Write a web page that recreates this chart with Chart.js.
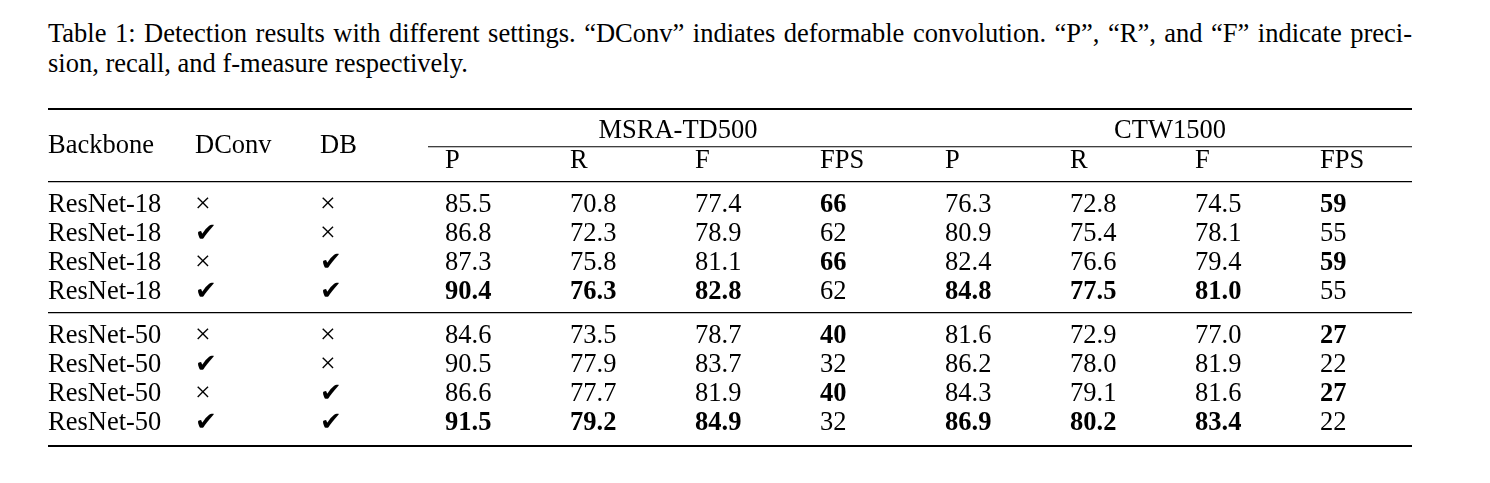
<!DOCTYPE html>
<html>
<head>
<meta charset="utf-8">
<script src="https://cdn.jsdelivr.net/npm/chart.js@4.4.1/dist/chart.umd.min.js"></script>
<style>
  html, body { margin: 0; padding: 0; background: #fff; }
  body { width: 1490px; height: 483px; position: relative; overflow: hidden; }
  .cap { position: absolute; left: 48px; width: 1364px; font-family: "Liberation Serif", "Times New Roman", serif;
         font-size: 26.5px; line-height: 30px; color: #000; white-space: nowrap; }
  #cap1 { top: 18px; text-align: justify; text-align-last: justify; }
  #cap2 { top: 48px; text-align: left; }
  #wrap { position: absolute; left: 0; top: 0; width: 1490px; height: 483px; }
</style>
</head>
<body>
<div class="cap" id="cap1">Table 1: Detection results with different settings. “DConv” indiates deformable convolution. “P”, “R”, and “F” indicate preci-</div>
<div class="cap" id="cap2">sion, recall, and f-measure respectively.</div>
<div id="wrap"><canvas id="c" width="1490" height="483"></canvas></div>
<script>
// ---- data ----
const backbones = ['ResNet-18','ResNet-18','ResNet-18','ResNet-18','ResNet-50','ResNet-50','ResNet-50','ResNet-50'];
const dconv = [false, true, false, true, false, true, false, true];
const dbFlags = [false, false, true, true, false, false, true, true];
const msraP   = [85.5, 86.8, 87.3, 90.4, 84.6, 90.5, 86.6, 91.5];
const msraR   = [70.8, 72.3, 75.8, 76.3, 73.5, 77.9, 77.7, 79.2];
const msraF   = [77.4, 78.9, 81.1, 82.8, 78.7, 83.7, 81.9, 84.9];
const msraFPS = [66, 62, 66, 62, 40, 32, 40, 32];
const ctwP    = [76.3, 80.9, 82.4, 84.8, 81.6, 86.2, 84.3, 86.9];
const ctwR    = [72.8, 75.4, 76.6, 77.5, 72.9, 78.0, 79.1, 80.2];
const ctwF    = [74.5, 78.1, 79.4, 81.0, 77.0, 81.9, 81.6, 83.4];
const ctwFPS  = [59, 55, 59, 55, 27, 22, 27, 22];
const groupHeaders = ['MSRA-TD500', 'CTW1500'];
const colHeaders = ['Backbone', 'DConv', 'DB'];
const subHeaders = ['P', 'R', 'F', 'FPS', 'P', 'R', 'F', 'FPS'];

// ---- layout (scale units) ----
const X_MIN = -1.176, X_MAX = 9.736;
const Y_MIN = 0.443, Y_MAX = 12.055;
const rowY = [4, 5, 6, 7, 8.5, 9.5, 10.5, 11.5];
const colX = [X_MIN, 0, 1, 2, 3, 4, 5, 6, 7, 8, 9];
const groupX = [3.864, 7.8];
const Y_GROUP = 1.47, Y_HEAD = 1.99, Y_SUB = 2.5, Y_CMID = 1.77, X_CMID = 1.864;
const Y_MID1 = 2.971, Y_MID2 = 7.465;
const FONT = '"Liberation Serif", "Times New Roman", serif';
const FS = 26.5;

const numericCols = [
  {v: msraP, fmt: 1}, {v: msraR, fmt: 1}, {v: msraF, fmt: 1}, {v: msraFPS, fmt: 0},
  {v: ctwP, fmt: 1}, {v: ctwR, fmt: 1}, {v: ctwF, fmt: 1}, {v: ctwFPS, fmt: 0}
];
function isBest(arr, i) {
  const g = i < 4 ? arr.slice(0, 4) : arr.slice(4, 8);
  return arr[i] === Math.max(...g);
}

const CHECK = '\u2714', CROSS = '\u00D7';
const datasets = [];
datasets.push({ label: 'Backbone', data: backbones.map((b, i) => ({x: colX[0], y: rowY[i], t: b, bold: false})) });
datasets.push({ label: 'DConv', data: dconv.map((b, i) => ({x: colX[1], y: rowY[i], t: b ? CHECK : CROSS, bold: false, mark: true})) });
datasets.push({ label: 'DB', data: dbFlags.map((b, i) => ({x: colX[2], y: rowY[i], t: b ? CHECK : CROSS, bold: false, mark: true})) });
numericCols.forEach((c, k) => {
  datasets.push({ label: subHeaders[k], data: c.v.map((v, i) => ({x: colX[3 + k], y: rowY[i], t: v.toFixed(c.fmt), bold: isBest(c.v, i)})) });
});
datasets.forEach(d => { d.pointRadius = 0; d.pointHoverRadius = 0; d.showLine = false; });

const tablePlugin = {
  id: 'tablePlugin',
  afterDatasetsDraw(chart) {
    const ctx = chart.ctx;
    const xs = chart.scales.x, ys = chart.scales.y;
    const area = chart.chartArea;
    ctx.save();
    ctx.fillStyle = '#000';
    ctx.strokeStyle = '#000';
    // rules
    const hline = (y, x0, x1, w) => { ctx.beginPath(); ctx.lineWidth = w; ctx.moveTo(x0, y); ctx.lineTo(x1, y); ctx.stroke(); };
    hline(ys.getPixelForValue(Y_MIN) + 1, area.left, area.right, 2.2);
    hline(ys.getPixelForValue(Y_CMID), xs.getPixelForValue(X_CMID), area.right, 1.1);
    hline(ys.getPixelForValue(Y_MID1), area.left, area.right, 1.3);
    hline(ys.getPixelForValue(Y_MID2), area.left, area.right, 1.3);
    hline(ys.getPixelForValue(Y_MAX) - 0.5, area.left, area.right, 2.2);
    ctx.textBaseline = 'alphabetic';
    // header
    ctx.font = `${FS}px ${FONT}`;
    ctx.textAlign = 'left';
    colHeaders.forEach((h, i) => ctx.fillText(h, xs.getPixelForValue(colX[i]), ys.getPixelForValue(Y_HEAD)));
    subHeaders.forEach((h, i) => ctx.fillText(h, xs.getPixelForValue(colX[3 + i]), ys.getPixelForValue(Y_SUB)));
    ctx.textAlign = 'center';
    groupHeaders.forEach((h, i) => ctx.fillText(h, xs.getPixelForValue(groupX[i]), ys.getPixelForValue(Y_GROUP)));
    // cells
    ctx.textAlign = 'left';
    chart.data.datasets.forEach((ds, di) => {
      const meta = chart.getDatasetMeta(di);
      meta.data.forEach((el, i) => {
        const p = ds.data[i];
        if (p.mark) {
          ctx.font = p.t === CHECK ? `${FS * 0.98}px "DejaVu Sans", ${FONT}` : `${FS * 1.05}px ${FONT}`;
        } else {
          ctx.font = `${p.bold ? 'bold ' : ''}${FS}px ${FONT}`;
        }
        ctx.fillText(p.t, el.x, el.y);
      });
    });
    ctx.restore();
  }
};

new Chart(document.getElementById('c'), {
  type: 'scatter',
  data: { datasets },
  options: {
    responsive: false,
    animation: false,
    events: [],
    layout: { padding: { left: 48, top: 108, right: 78, bottom: 36.5 } },
    plugins: { legend: { display: false }, tooltip: { enabled: false }, title: { display: false } },
    scales: {
      x: { type: 'linear', min: X_MIN, max: X_MAX, display: false },
      y: { type: 'linear', min: Y_MIN, max: Y_MAX, reverse: true, display: false }
    }
  },
  plugins: [tablePlugin]
});
</script>
</body>
</html>
